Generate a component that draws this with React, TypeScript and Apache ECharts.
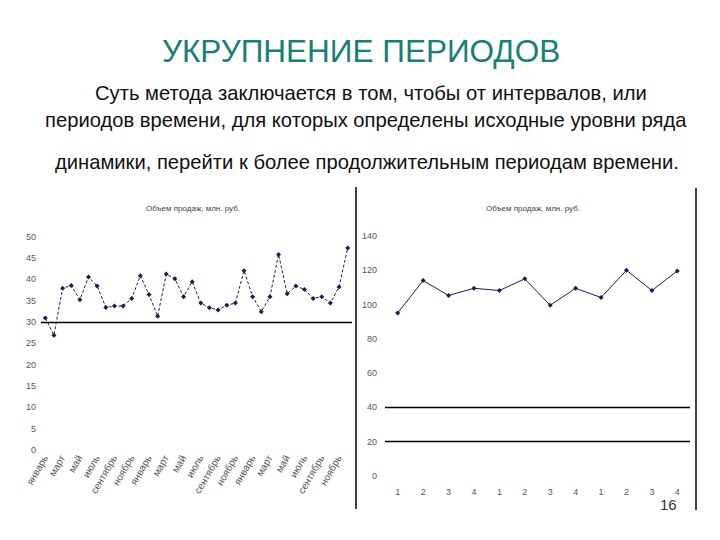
import React, { useEffect, useRef } from "react";
import * as echarts from "echarts";

const monthNames = ["январь", "февраль", "март", "апрель", "май", "июнь", "июль", "август", "сентябрь", "октябрь", "ноябрь", "декабрь"];
const monthCategories = [...monthNames, ...monthNames, ...monthNames];
const monthlySales = [
  30.9, 26.9, 37.9, 38.5, 35.2, 40.5, 38.4, 33.4, 33.7, 33.7, 35.5, 40.8,
  36.4, 31.3, 41.2, 40.1, 35.9, 39.4, 34.4, 33.3, 32.8, 33.9, 34.4, 42.0,
  35.9, 32.4, 35.9, 45.8, 36.6, 38.4, 37.6, 35.5, 35.9, 34.4, 38.2, 47.3,
];
const quarterCategories = ["1", "2", "3", "4", "1", "2", "3", "4", "1", "2", "3", "4"];
const quarterlySales = [95.1, 114.0, 105.3, 109.5, 108.2, 115.0, 99.6, 109.5, 104.1, 120.0, 108.2, 119.6];
const leftRefLines = [30];
const rightRefLines = [20, 40];

const chartTitle = "Объем продаж, млн. руб.";
const slideTitle = "УКРУПНЕНИЕ ПЕРИОДОВ";
const bodyLines = [
  "Суть метода заключается в том, чтобы от интервалов, или",
  "периодов времени, для которых определены исходные уровни ряда",
  "динамики, перейти к более продолжительным периодам времени.",
];
const slideNumber = "16";

const FONT = "'Liberation Sans', Arial, sans-serif";

export default function App() {
  const ref = useRef<HTMLDivElement>(null);
  useEffect(() => {
    if (!ref.current) return;
    const chart = echarts.init(ref.current, null, { renderer: "svg" });
    const axisLabelStyle = { color: "#555", fontSize: 9, fontFamily: FONT };
    const lineColor = "#1c1c55";
    chart.setOption({
      animation: false,
      backgroundColor: "#fff",
      textStyle: { fontFamily: FONT },
      title: [
        { text: chartTitle, left: 188, top: 199, textAlign: "center", textStyle: { fontSize: 8, fontWeight: "normal", color: "#444", fontFamily: FONT } },
        { text: chartTitle, left: 528, top: 199, textAlign: "center", textStyle: { fontSize: 8, fontWeight: "normal", color: "#444", fontFamily: FONT } },
      ],
      grid: [
        { left: 41, top: 236.5, width: 311, height: 213.5, containLabel: false },
        { left: 385, top: 236, width: 305, height: 240, containLabel: false },
      ],
      xAxis: [
        {
          type: "category", gridIndex: 0, data: monthCategories, boundaryGap: true,
          axisLine: { show: false }, axisTick: { show: false },
          axisLabel: { ...axisLabelStyle, fontSize: 10, rotate: 60, interval: 1, margin: 6 },
        },
        {
          type: "category", gridIndex: 1, data: quarterCategories, boundaryGap: true,
          axisLine: { show: false }, axisTick: { show: false },
          axisLabel: { ...axisLabelStyle, margin: 11 },
        },
      ],
      yAxis: [
        {
          type: "value", gridIndex: 0, min: 0, max: 50, interval: 5,
          axisLine: { show: false }, axisTick: { show: false }, splitLine: { show: false },
          axisLabel: { ...axisLabelStyle, margin: 5 },
        },
        {
          type: "value", gridIndex: 1, min: 0, max: 140, interval: 20,
          axisLine: { show: false }, axisTick: { show: false }, splitLine: { show: false },
          axisLabel: { ...axisLabelStyle, margin: 8 },
        },
      ],
      series: [
        {
          type: "line", xAxisIndex: 0, yAxisIndex: 0, data: monthlySales,
          symbol: "diamond", symbolSize: 5,
          itemStyle: { color: lineColor },
          lineStyle: { color: lineColor, width: 1, type: [3, 2] },
          markLine: {
            silent: true, symbol: "none", label: { show: false },
            lineStyle: { color: "#000", type: "solid", width: 1.3 },
            data: leftRefLines.map((v) => ({ yAxis: v })),
          },
        },
        {
          type: "line", xAxisIndex: 1, yAxisIndex: 1, data: quarterlySales,
          symbol: "diamond", symbolSize: 5,
          itemStyle: { color: lineColor },
          lineStyle: { color: lineColor, width: 1, type: "solid" },
          markLine: {
            silent: true, symbol: "none", label: { show: false },
            lineStyle: { color: "#000", type: "solid", width: 1.3 },
            data: rightRefLines.map((v) => ({ yAxis: v })),
          },
        },
      ],
      graphic: [
        { type: "text", left: 162, top: 35, style: { text: slideTitle, fontSize: 31.5, fill: "#178078", fontFamily: FONT } },
        { type: "text", left: 95, top: 83, style: { text: bodyLines[0], fontSize: 20.2, fill: "#111", fontFamily: FONT } },
        { type: "text", left: 45, top: 110, style: { text: bodyLines[1], fontSize: 20.2, fill: "#111", fontFamily: FONT } },
        { type: "text", left: 55, top: 152, style: { text: bodyLines[2], fontSize: 20.2, fill: "#111", fontFamily: FONT } },
        { type: "line", shape: { x1: 356, y1: 187, x2: 356, y2: 509 }, style: { stroke: "#000", lineWidth: 1.5 } },
        { type: "line", shape: { x1: 696, y1: 188, x2: 696, y2: 510 }, style: { stroke: "#000", lineWidth: 1.5 } },
        { type: "text", left: 660, top: 497, style: { text: slideNumber, fontSize: 15, fill: "#333", fontFamily: FONT } },
      ],
    });
    return () => chart.dispose();
  }, []);
  return <div ref={ref} style={{ position: "fixed", left: 0, top: 0, width: 720, height: 540 }} />;
}
